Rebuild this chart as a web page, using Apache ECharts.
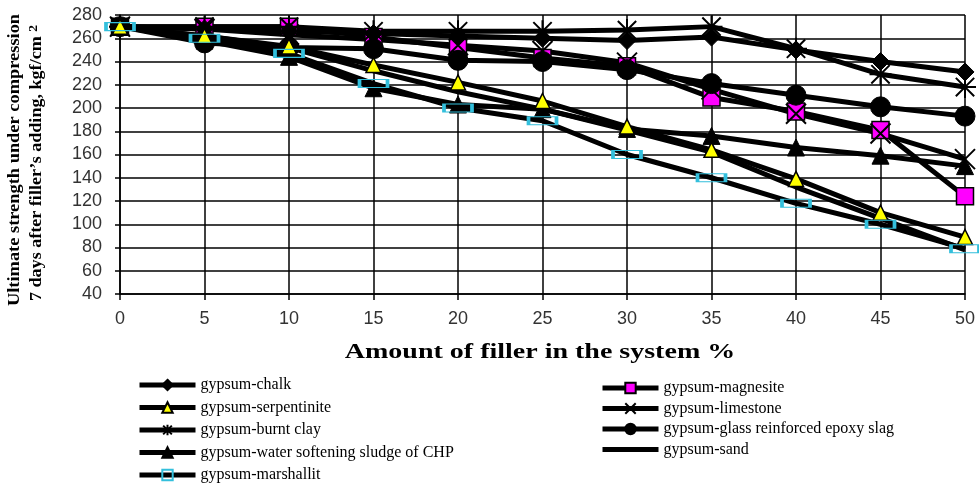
<!DOCTYPE html>
<html>
<head>
<meta charset="utf-8">
<script src="https://cdn.jsdelivr.net/npm/echarts@6/dist/echarts.min.js"></script>
<style>
  html, body { margin: 0; padding: 0; background: #fff; }
  #chart { width: 979px; height: 490px; }
</style>
</head>
<body>
<div id="chart"></div>
<script>
// Filler content, % of the system
const fillerAmount = [0, 5, 10, 15, 20, 25, 30, 35, 40, 45, 50];

// Compression strength after 7 days, kgf/cm2
const magnesite   = [270, 270, 270, 261, 252, 243, 236, 209, 197, 181, 124];
const chalk       = [270, 268, 266, 264, 262, 260, 258, 261, 250, 240, 231];
const burntClay   = [270, 270, 270, 266, 266, 266, 267, 270, 251, 229, 218];
const limestone   = [270, 268, 263, 259, 254, 249, 239, 216, 195, 178, 156];
const epoxySlag   = [270, 256, 252, 251, 241, 240, 233, 221, 211, 201, 193];
const sand        = [270, 262, 252, 232, 214, 199, 181, 162, 132, 105, 78];
const sludge      = [270, 258, 244, 217, 203, 199, 182, 176, 166, 159, 150];
const serpentinite= [270, 262, 253, 237, 222, 206, 184, 164, 139, 110, 89];
const marshallit  = [270, 260, 247, 221, 200, 189, 160, 140, 118, 100, 79];

const yTicks = { min: 40, max: 280, step: 20 };
const xTicks = { min: 0, max: 50, step: 5 };

const pair = arr => fillerAmount.map((x, i) => [x, arr[i]]);

const asterisk = 'path://M0,0L10,10M10,0L0,10M5,-1L5,11M-1,5L11,5';
const cross = 'path://M0,0L10,10M10,0L0,10';
const plainLine = 'path://M0,0L56,0L56,5L0,5Z';

function line(name, data, symbol, size, itemStyle) {
  return {
    name, type: 'line', data: pair(data),
    symbol, symbolSize: size,
    showSymbol: symbol !== 'none',
    lineStyle: { color: '#000', width: 5 },
    itemStyle,
    emphasis: { disabled: true },
    animation: false
  };
}

const series = [
  line('gypsum-magnesite', magnesite, 'rect', 17, { color: '#ff00ff', borderColor: '#000', borderWidth: 1.5 }),
  line('gypsum-sand', sand, 'none', 0, { color: '#000' }),
  line('gypsum-chalk', chalk, 'diamond', 18, { color: '#000', borderColor: '#000', borderWidth: 1 }),
  line('gypsum-limestone', limestone, cross, 20, { color: '#000', borderColor: '#000', borderWidth: 2 }),
  line('gypsum-burnt clay', burntClay, asterisk, 22, { color: '#000', borderColor: '#000', borderWidth: 2 }),
  line('gypsum-glass reinforced epoxy slag', epoxySlag, 'circle', 20, { color: '#000', borderColor: '#000', borderWidth: 1 }),
  line('gypsum-water softening sludge of CHP', sludge, 'triangle', 17, { color: '#000', borderColor: '#000', borderWidth: 1 }),
  line('gypsum-serpentinite', serpentinite, 'triangle', 15, { color: '#ffff00', borderColor: '#000', borderWidth: 1.5 }),
  line('gypsum-marshallit', marshallit, 'rect', [28, 8], { color: 'rgba(0,0,0,0)', borderColor: '#33bfdc', borderWidth: 2 })
];

const serif = '"Liberation Serif", "Times New Roman", serif';
const legendText = { fontFamily: serif, fontSize: 16, color: '#000' };
const legendLine = { color: '#000', width: 5 };

const chart = echarts.init(document.getElementById('chart'), null, { renderer: 'canvas' });
chart.setOption({
  backgroundColor: '#fff',
  animation: false,
  grid: { left: 120, right: 14, top: 15, bottom: 196, containLabel: false },
  xAxis: {
    type: 'value', min: xTicks.min, max: xTicks.max, interval: xTicks.step,
    axisLine: { show: true, lineStyle: { color: '#000', width: 1.5 } },
    axisTick: { show: true, length: 6, lineStyle: { color: '#000', width: 1.5 } },
    axisLabel: { margin: 16, fontFamily: '"Liberation Sans", Arial, sans-serif', fontSize: 18, color: '#333' },
    splitLine: { show: true, lineStyle: { color: '#000', width: 1.5 } }
  },
  yAxis: {
    type: 'value', min: yTicks.min, max: yTicks.max, interval: yTicks.step,
    axisLine: { show: true, lineStyle: { color: '#000', width: 1.5 } },
    axisTick: { show: true, length: 5, lineStyle: { color: '#000', width: 1.5 } },
    axisLabel: { margin: 18, fontFamily: '"Liberation Sans", Arial, sans-serif', fontSize: 18, color: '#333' },
    splitLine: { show: true, lineStyle: { color: '#000', width: 1.5 } }
  },
  legend: [
    {
      orient: 'vertical', left: 137, top: 377, height: 120, padding: 0,
      itemWidth: 56, itemHeight: 13, itemGap: 6.5,
      textStyle: legendText, lineStyle: legendLine, selectedMode: false,
      data: ['gypsum-chalk', 'gypsum-serpentinite', 'gypsum-burnt clay',
             'gypsum-water softening sludge of CHP', 'gypsum-marshallit']
    },
    {
      orient: 'vertical', left: 600, top: 380, height: 110, padding: 0,
      itemWidth: 56, itemHeight: 13, itemGap: 4.5,
      textStyle: legendText, lineStyle: legendLine, selectedMode: false,
      data: ['gypsum-magnesite', 'gypsum-limestone',
             'gypsum-glass reinforced epoxy slag',
             { name: 'gypsum-sand', icon: plainLine }]
    }
  ],
  graphic: [
    {
      type: 'text', x: 15, y: 160, rotation: Math.PI / 2, scaleX: 1.15,
      style: {
        text: 'Ultimate strength under compression',
        font: 'bold 16px ' + serif,
        fill: '#000', align: 'center', verticalAlign: 'middle'
      }
    },
    {
      type: 'text', x: 37, y: 163, rotation: Math.PI / 2, scaleX: 1.13,
      style: {
        text: '7 days after filler\u2019s adding, kgf/cm {s|2}',
        font: 'bold 16px ' + serif,
        fill: '#000', align: 'center', verticalAlign: 'middle',
        rich: { s: { font: 'bold 12px ' + serif, fill: '#000', verticalAlign: 'top', padding: [0, 0, 6, 0] } }
      }
    },
    {
      type: 'text', x: 540, y: 353, scaleX: 1.4,
      style: {
        text: 'Amount of filler in the system %',
        font: 'bold 20px ' + serif,
        fill: '#000', align: 'center', verticalAlign: 'middle'
      }
    }
  ],
  series
});
</script>
</body>
</html>
